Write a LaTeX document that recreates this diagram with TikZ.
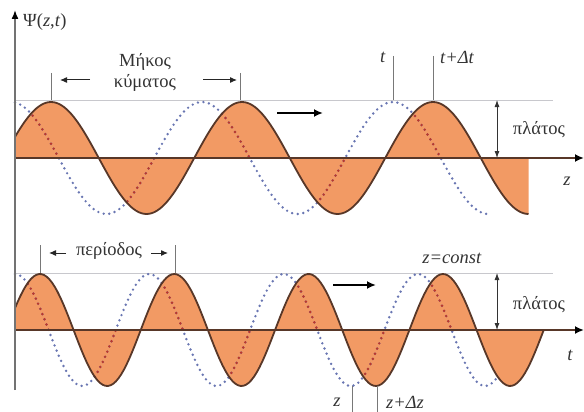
\documentclass[tikz,border=0pt]{standalone}
\usepackage{fontspec}
\setmainfont{Liberation Serif}
\usetikzlibrary{arrows.meta}
\definecolor{wfill}{RGB}{242,154,100}
\definecolor{wline}{RGB}{88,55,40}
\definecolor{wdot}{RGB}{105,118,178}
\definecolor{wdotin}{RGB}{190,55,40}
\definecolor{guide}{RGB}{200,200,205}
\definecolor{tickc}{RGB}{120,120,120}
\begin{document}
\begin{tikzpicture}[x=1pt,y=-1pt,
  lbl/.style={font=\fontsize{18.5}{21}\selectfont, text=black!80, inner sep=0pt},
  wave/.style={draw=wline, line width=1.8pt},
  dotc/.style={wdot, line width=2.7pt, line cap=round, dash pattern=on 0pt off 5.6pt},
  dotin/.style={wdotin, line width=2.7pt, line cap=round, dash pattern=on 0pt off 5.6pt},
  axisz/.style={wline, line width=2.4pt, -{Latex[black,length=9pt,width=8pt]}},
  guideline/.style={guide, line width=0.8pt},
  tickl/.style={tickc, line width=1pt},
  amp/.style={black!80, line width=0.8pt, {Latex[length=7pt,width=5pt]}-{Latex[length=7pt,width=5pt]}},
  dirarrow/.style={black, line width=2pt, -{Latex[length=9pt,width=8pt]}},
  dimarrow/.style={black!85, line width=1pt, -{Latex[length=7pt,width=6pt]}}
]
\useasboundingbox (0,0) rectangle (584,412);
% ---------- top panel ----------
\draw[guideline] (15,100) -- (553,100);
\fill[wfill] plot[domain=15:528.5,samples=200] (\x,{158-56*cos((\x-51)*1.8848)}) -- (528.5,158) -- (15,158) -- cycle;
\draw[dotc] plot[domain=15:489,samples=200] (\x,{158-56*cos((\x-393)*1.8848)});
\begin{scope}
\clip plot[domain=15:528.5,samples=200] (\x,{158-56*cos((\x-51)*1.8848)}) -- (528.5,158) -- (15,158) -- cycle;
\draw[dotin] plot[domain=15:489,samples=200] (\x,{158-56*cos((\x-393)*1.8848)});
\end{scope}
\draw[wave] plot[domain=15:528.5,samples=200] (\x,{158-56*cos((\x-51)*1.8848)});
\draw[axisz] (15,158) coordinate (za0) -- (584,158) coordinate (za1);
% ---------- bottom panel ----------
\draw[guideline] (15,273) -- (553,273);
\fill[wfill] plot[domain=15:543.75,samples=200] (\x,{330-56*cos((\x-40)*2.680)}) -- (15,330) -- cycle;
\draw[dotc] plot[domain=15:496,samples=200] (\x,{330-56*cos((\x-15)*2.680)});
\begin{scope}
\clip plot[domain=15:543.75,samples=200] (\x,{330-56*cos((\x-40)*2.680)}) -- (15,330) -- cycle;
\draw[dotin] plot[domain=15:496,samples=200] (\x,{330-56*cos((\x-15)*2.680)});
\end{scope}
\draw[wave] plot[domain=15:543.75,samples=200] (\x,{330-56*cos((\x-40)*2.680)});
\draw[axisz] (15,330) coordinate (ta0) -- (584,330) coordinate (ta1);
% ---------- vertical axis ----------
\draw[black!55, line width=1.5pt, -{Latex[black,length=9pt,width=7pt]}] (15,390) coordinate (va0) -- (15,10) coordinate (va1);
\node[lbl, anchor=west] (psi) at (23,22) {Ψ(\textit{z},\textit{t})};
% ---------- top labels ----------
\node[lbl, align=center] (mk) at (145,72) {Μήκος\\κύματος};
\coordinate (w1a) at (51,73); \coordinate (w1b) at (51,100);
\coordinate (w2a) at (240,73); \coordinate (w2b) at (240,100);
\draw[tickl] (w1a) -- (w1b);
\draw[tickl] (w2a) -- (w2b);
\coordinate (la) at (90,80); \coordinate (lb) at (60,80);
\coordinate (ra) at (203,80); \coordinate (rb) at (237,80);
\draw[dimarrow] (la) -- (lb);
\draw[dimarrow] (ra) -- (rb);
\node[lbl] (tl) at (383,57) {\textit{t}};
\node[lbl, anchor=west] (tdl) at (440,57) {\textit{t+Δt}};
\coordinate (t1a) at (393,56); \coordinate (t1b) at (393,100);
\coordinate (t2a) at (433,56); \coordinate (t2b) at (433,100);
\draw[tickl] (t1a) -- (t1b);
\draw[tickl] (t2a) -- (t2b);
\coordinate (d1a) at (277,113); \coordinate (d1b) at (323,113);
\draw[dirarrow] (d1a) -- (d1b);
\coordinate (a1a) at (497,100); \coordinate (a1b) at (497,158);
\draw[amp] (a1a) -- (a1b);
\node[lbl] (pl1) at (539,130) {πλάτος};
\node[lbl] (zl) at (567,181) {\textit{z}};
% ---------- bottom labels ----------
\node[lbl] (per) at (109,251) {περίοδος};
\coordinate (p1a) at (40,245); \coordinate (p1b) at (40,273);
\coordinate (p2a) at (175,245); \coordinate (p2b) at (175,273);
\draw[tickl] (p1a) -- (p1b);
\draw[tickl] (p2a) -- (p2b);
\coordinate (pla) at (66,253); \coordinate (plb) at (49,253);
\coordinate (pra) at (151,253); \coordinate (prb) at (168,253);
\draw[dimarrow] (pla) -- (plb);
\draw[dimarrow] (pra) -- (prb);
\node[lbl] (zc) at (452,258) {\textit{z=const}};
\coordinate (d2a) at (333,285); \coordinate (d2b) at (376,285);
\draw[dirarrow] (d2a) -- (d2b);
\coordinate (a2a) at (497,273); \coordinate (a2b) at (497,330);
\draw[amp] (a2a) -- (a2b);
\node[lbl] (pl2) at (539,305) {πλάτος};
\node[lbl] (tl2) at (570,355) {\textit{t}};
\node[lbl] (zb) at (337,402) {\textit{z}};
\node[lbl, anchor=west] (zdb) at (386,402) {\textit{z+Δz}};
\coordinate (z1a) at (352,386); \coordinate (z1b) at (352,412);
\coordinate (z2a) at (377,386); \coordinate (z2b) at (377,412);
\draw[tickl] (z1a) -- (z1b);
\draw[tickl] (z2a) -- (z2b);
\end{tikzpicture}
\end{document}
